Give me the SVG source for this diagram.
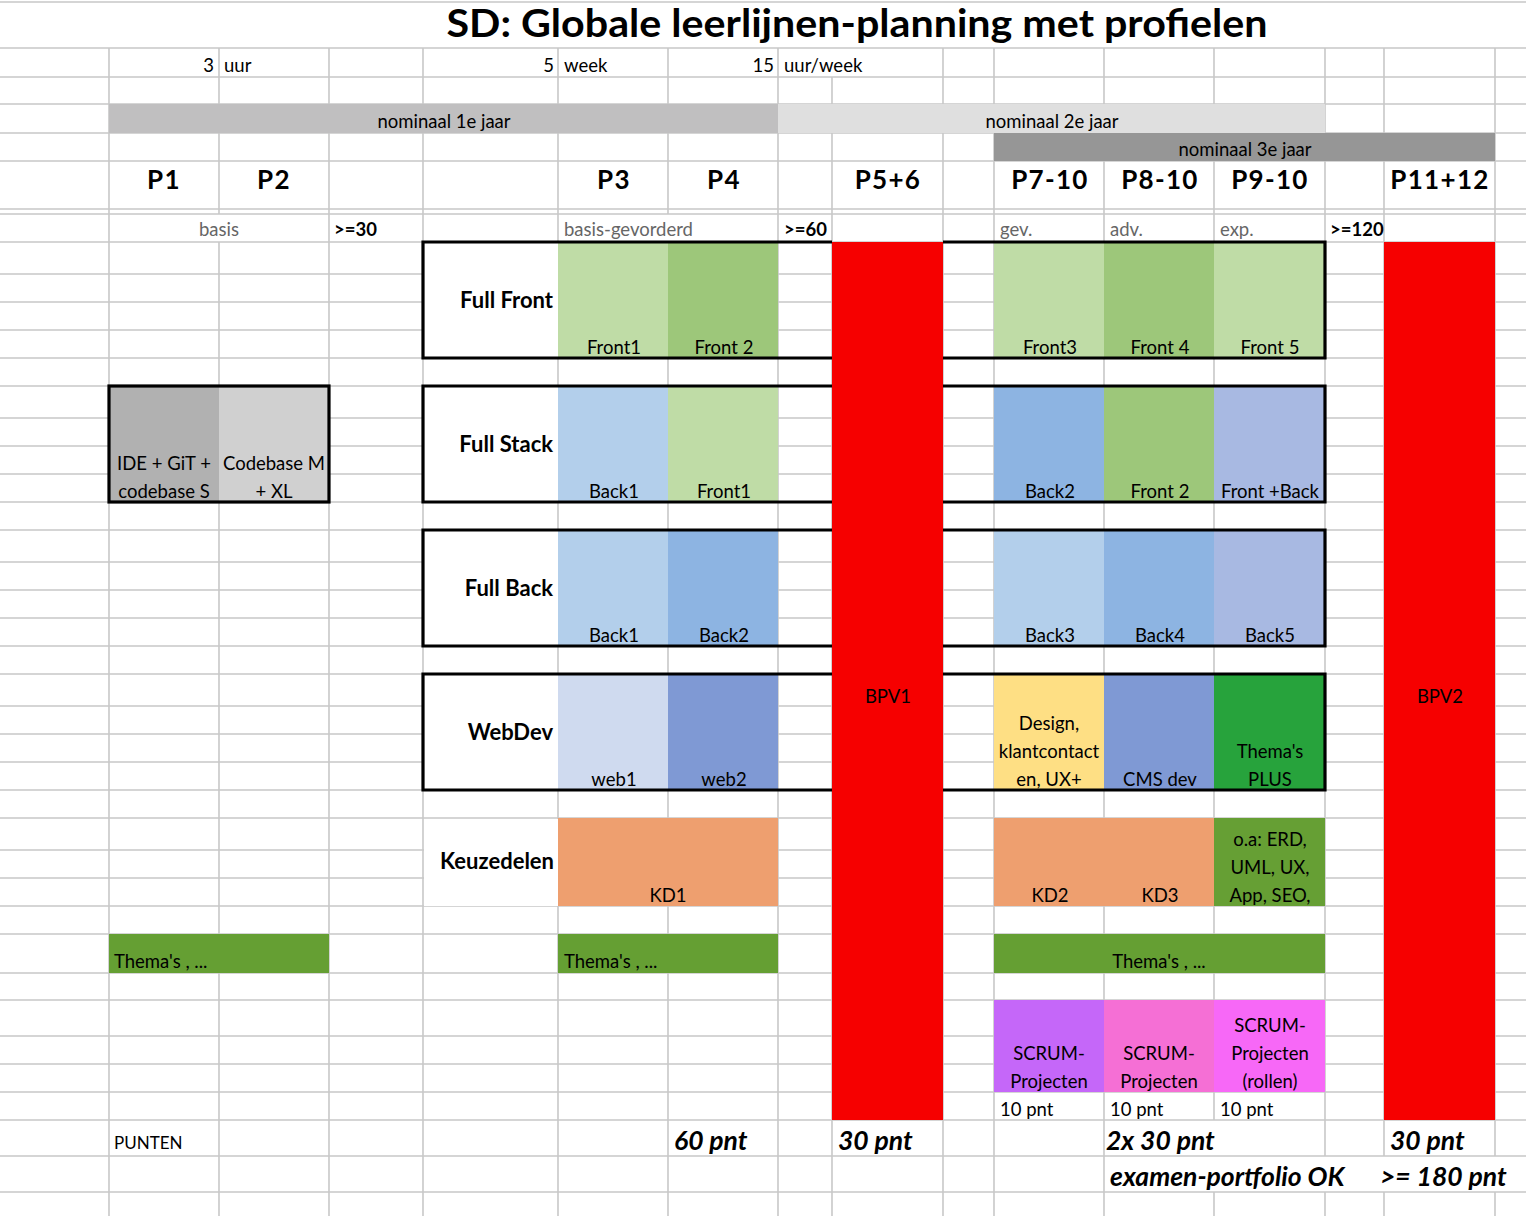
<svg xmlns="http://www.w3.org/2000/svg" width="1526" height="1216" viewBox="0 0 1526 1216">
<style>
.g{stroke:#c8c8c8;stroke-width:1.6;fill:none}
.bx{fill:none;stroke:#000;stroke-width:3.2}
text{font-family:Lato,"Liberation Sans",sans-serif;font-size:18.5px;fill:#000}
.c{text-anchor:middle}
.r{text-anchor:end}
.b{font-weight:bold}
.gr{fill:#666}
.lbl{font-weight:bold;font-size:22px;text-anchor:end}
.p{font-weight:bold;font-size:26px;text-anchor:middle;letter-spacing:1.3px}
.pt{font-weight:bold;font-style:italic;font-size:26.5px}
.ttl{font-weight:bold;font-size:39px;text-anchor:middle}
</style>
<rect width="1526" height="1216" fill="#fff"/>
<g id="grid">
<path class="g" d="M0,2H1526M0,48H1526M0,77H1526M0,104H1526M0,133H1526M0,161H1526M0,209H1526M0,214H1526M0,242H1526M0,274H1526M0,302H1526M0,330H1526M0,358H1526M0,386H1526M0,418H1526M0,446H1526M0,474H1526M0,502H1526M0,530H1526M0,562H1526M0,590H1526M0,618H1526M0,646H1526M0,674H1526M0,706H1526M0,734H1526M0,762H1526M0,790H1526M0,818H1526M0,850H1526M0,878H1526M0,906H1526M0,934H1526M0,973H1526M0,1000H1526M0,1036H1526M0,1064H1526M0,1092H1526M0,1120H1526M0,1156H1526M0,1192H1526"/>
<path class="g" d="M109,48V1216M219,48V214M219,242V1216M329,48V1216M423,48V1216M558,48V1216M668,48V214M668,242V1216M778,48V1216M832,77V1216M943,48V1216M994,48V1216M1104,48V1216M1214,48V1120M1214,1192V1216M1325,48V1156M1325,1192V1216M1384,48V1156M1384,1192V1216M1495,48V1156M1495,1192V1216"/>
</g>
<g id="title"><text class="ttl" x="857" y="37" textLength="821" lengthAdjust="spacingAndGlyphs">SD: Globale leerlijnen-planning met profielen</text></g>
<g id="units">
<text class="r" x="214" y="72">3</text><text x="224" y="72">uur</text>
<text class="r" x="554" y="72">5</text><text x="564" y="72">week</text>
<text class="r" x="774" y="72">15</text><text x="784" y="72">uur/week</text>
</g>
<g id="bands">
<rect x="109" y="104" width="669" height="29" fill="#c0bfc0"/>
<rect x="778" y="104" width="547" height="29" fill="#dfdfdf"/>
<rect x="994" y="133" width="501" height="28" fill="#969696"/>
<text class="c" x="444" y="128">nominaal 1e jaar</text>
<text class="c" x="1052" y="128">nominaal 2e jaar</text>
<text class="c" x="1245" y="156">nominaal 3e jaar</text>
</g>
<g id="periods">
<text class="p" x="164" y="189">P1</text><text class="p" x="274" y="189">P2</text>
<text class="p" x="614" y="189">P3</text><text class="p" x="724" y="189">P4</text>
<text class="p" x="888" y="189">P5+6</text><text class="p" x="1050" y="189">P7-10</text>
<text class="p" x="1160" y="189">P8-10</text><text class="p" x="1270" y="189">P9-10</text>
<text class="p" x="1440" y="189">P11+12</text>
</g>
<g id="levels">
<text class="c gr" x="219" y="236">basis</text><text class="b" x="334" y="236">&gt;=30</text>
<text class="gr" x="564" y="236">basis-gevorderd</text><text class="b" x="784" y="236">&gt;=60</text>
<text class="gr" x="1000" y="236">gev.</text><text class="gr" x="1110" y="236">adv.</text><text class="gr" x="1220" y="236">exp.</text>
<text class="b" x="1330" y="236">&gt;=120</text>
</g>
<g id="basis-box">
<rect x="109" y="386" width="110" height="116" fill="#b1b1b1"/>
<rect x="219" y="386" width="110" height="116" fill="#d0d0d0"/>
<rect class="bx" x="109" y="386" width="220" height="116"/>
<text class="c" x="164" y="470">IDE + GiT +</text><text class="c" x="164" y="498">codebase S</text>
<text class="c" x="274" y="470">Codebase M</text><text class="c" x="274" y="498">+ XL</text>
</g>
<g id="full-front">
<rect x="424" y="243" width="134" height="114" fill="#fff"/>
<rect x="558" y="242" width="110" height="116" fill="#bfdca6"/>
<rect x="668" y="242" width="110" height="116" fill="#9dc77a"/>
<rect x="994" y="242" width="110" height="116" fill="#bfdca6"/>
<rect x="1104" y="242" width="110" height="116" fill="#9dc77a"/>
<rect x="1214" y="242" width="111" height="116" fill="#bfdca6"/>
<path class="bx" d="M832,242H423V358H832M943,242H1325V358H943"/>
<text class="lbl" x="553" y="308">Full Front</text>
<text class="c" x="614" y="354">Front1</text><text class="c" x="724" y="354">Front 2</text>
<text class="c" x="1050" y="354">Front3</text><text class="c" x="1160" y="354">Front 4</text><text class="c" x="1270" y="354">Front 5</text>
</g>
<g id="full-stack">
<rect x="424" y="387" width="134" height="114" fill="#fff"/>
<rect x="558" y="386" width="110" height="116" fill="#b3cfeb"/>
<rect x="668" y="386" width="110" height="116" fill="#bfdca6"/>
<rect x="994" y="386" width="110" height="116" fill="#8db4e2"/>
<rect x="1104" y="386" width="110" height="116" fill="#9dc77a"/>
<rect x="1214" y="386" width="111" height="116" fill="#a8b9e2"/>
<path class="bx" d="M832,386H423V502H832M943,386H1325V502H943"/>
<text class="lbl" x="553" y="452">Full Stack</text>
<text class="c" x="614" y="498">Back1</text><text class="c" x="724" y="498">Front1</text>
<text class="c" x="1050" y="498">Back2</text><text class="c" x="1160" y="498">Front 2</text><text class="c" x="1270" y="498">Front +Back</text>
</g>
<g id="full-back">
<rect x="424" y="531" width="134" height="114" fill="#fff"/>
<rect x="558" y="530" width="110" height="116" fill="#b3cfeb"/>
<rect x="668" y="530" width="110" height="116" fill="#8db4e2"/>
<rect x="994" y="530" width="110" height="116" fill="#b3cfeb"/>
<rect x="1104" y="530" width="110" height="116" fill="#8db4e2"/>
<rect x="1214" y="530" width="111" height="116" fill="#a8b9e2"/>
<path class="bx" d="M832,530H423V646H832M943,530H1325V646H943"/>
<text class="lbl" x="553" y="596">Full Back</text>
<text class="c" x="614" y="642">Back1</text><text class="c" x="724" y="642">Back2</text>
<text class="c" x="1050" y="642">Back3</text><text class="c" x="1160" y="642">Back4</text><text class="c" x="1270" y="642">Back5</text>
</g>
<g id="webdev">
<rect x="424" y="675" width="134" height="114" fill="#fff"/>
<rect x="558" y="674" width="110" height="116" fill="#cfdaef"/>
<rect x="668" y="674" width="110" height="116" fill="#7f99d4"/>
<rect x="994" y="674" width="110" height="116" fill="#fedf84"/>
<rect x="1104" y="674" width="110" height="116" fill="#7f99d4"/>
<rect x="1214" y="674" width="111" height="116" fill="#27a33c"/>
<path class="bx" d="M832,674H423V790H832M943,674H1325V790H943"/>
<text class="lbl" x="553" y="740">WebDev</text>
<text class="c" x="614" y="786">web1</text><text class="c" x="724" y="786">web2</text>
<text class="c" x="1049" y="730">Design,</text><text class="c" x="1049" y="758">klantcontact</text><text class="c" x="1049" y="786">en, UX+</text>
<text class="c" x="1160" y="786">CMS dev</text>
<text class="c" x="1270" y="758">Thema's</text><text class="c" x="1270" y="786">PLUS</text>
</g>
<g id="keuzedelen">
<rect x="424" y="819" width="134" height="87" fill="#fff"/>
<rect x="558" y="818" width="220" height="88" fill="#ee9f6f"/>
<rect x="994" y="818" width="220" height="88" fill="#ee9f6f"/>
<rect x="1214" y="818" width="111" height="88" fill="#669f34"/>
<text class="lbl" x="554" y="869">Keuzedelen</text>
<text class="c" x="668" y="902">KD1</text>
<text class="c" x="1050" y="902">KD2</text><text class="c" x="1160" y="902">KD3</text>
<text class="c" x="1270" y="846">o.a: ERD,</text><text class="c" x="1270" y="874">UML, UX,</text><text class="c" x="1270" y="902">App, SEO,</text>
</g>
<g id="themas">
<rect x="109" y="934" width="220" height="39" fill="#659f33"/>
<rect x="558" y="934" width="220" height="39" fill="#659f33"/>
<rect x="994" y="934" width="331" height="39" fill="#659f33"/>
<text x="114" y="968">Thema's , ...</text>
<text x="564" y="968">Thema's , ...</text>
<text class="c" x="1159" y="968">Thema's , ...</text>
</g>
<g id="scrum">
<rect x="994" y="1000" width="110" height="92" fill="#c567f9"/>
<rect x="1104" y="1000" width="110" height="92" fill="#f56fd5"/>
<rect x="1214" y="1000" width="111" height="92" fill="#f768f7"/>
<text class="c" x="1049" y="1060">SCRUM-</text><text class="c" x="1049" y="1088">Projecten</text>
<text class="c" x="1159" y="1060">SCRUM-</text><text class="c" x="1159" y="1088">Projecten</text>
<text class="c" x="1270" y="1032">SCRUM-</text><text class="c" x="1270" y="1060">Projecten</text><text class="c" x="1270" y="1088">(rollen)</text>
<text x="1000" y="1116">10 pnt</text><text x="1110" y="1116">10 pnt</text><text x="1220" y="1116">10 pnt</text>
</g>
<g id="bpv1">
<rect x="832" y="242" width="111" height="878" fill="#f60000"/>
<text class="c" x="888" y="703">BPV1</text>
</g>
<g id="bpv2">
<rect x="1384" y="242" width="111" height="878" fill="#f60000"/>
<text class="c" x="1440" y="703">BPV2</text>
</g>
<g id="punten">
<text x="114" y="1149" style="font-size:17px">PUNTEN</text>
<text class="pt" x="674" y="1150">60 pnt</text>
<text class="pt" x="838" y="1150">30 pnt</text>
<text class="pt" x="1106" y="1150">2x 30 pnt</text>
<text class="pt" x="1390" y="1150">30 pnt</text>
<text class="pt" x="1110" y="1186">examen-portfolio OK</text>
<text class="pt" x="1380" y="1186">&gt;= 180 pnt</text>
</g>
</svg>
